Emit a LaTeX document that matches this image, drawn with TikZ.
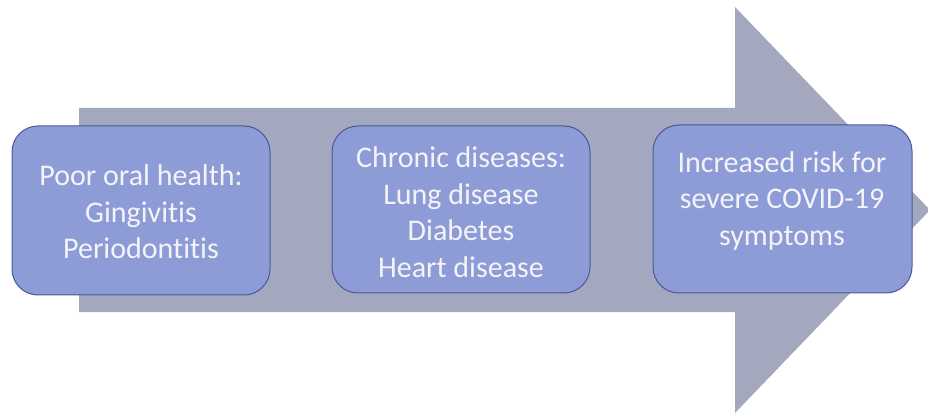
\documentclass[tikz,border=0pt]{standalone}
\usepackage{fontspec}
\setmainfont[Ligatures={NoCommon}]{Carlito}
\definecolor{arrowc}{HTML}{A3A8BF}
\definecolor{boxc}{HTML}{8D9BD7}
\definecolor{boxline}{HTML}{4A5A98}
\definecolor{txtc}{HTML}{F4F4F8}
\begin{document}
\begin{tikzpicture}[x=1pt,y=1pt,
  box/.style={draw=boxline, line width=1pt, fill=boxc, rounded corners=26pt, inner sep=0pt},
  txt/.style={text=txtc, align=center, font=\fontsize{30}{36.5}\selectfont, inner sep=0pt}]
\useasboundingbox (0,0) rectangle (928,415);
\fill[arrowc] (79,307) -- (735,307) -- (735,408) -- (930,205) -- (735,2) -- (735,103) -- (79,103) -- cycle;
\draw[box] (12,289) rectangle (270,120);
\draw[box] (332,289) rectangle (590,122);
\draw[box] (653,290) rectangle (912,122);
\node[txt] (t1) at (141,203) {Poor oral health:\\Gingivitis\\Periodontitis};
\node[txt] (t2) at (461,203) {Chronic diseases:\\Lung disease\\Diabetes\\Heart disease};
\node[txt] (t3) at (782,214) {Increased risk for\\severe COVID-19\\symptoms};
\end{tikzpicture}
\end{document}
